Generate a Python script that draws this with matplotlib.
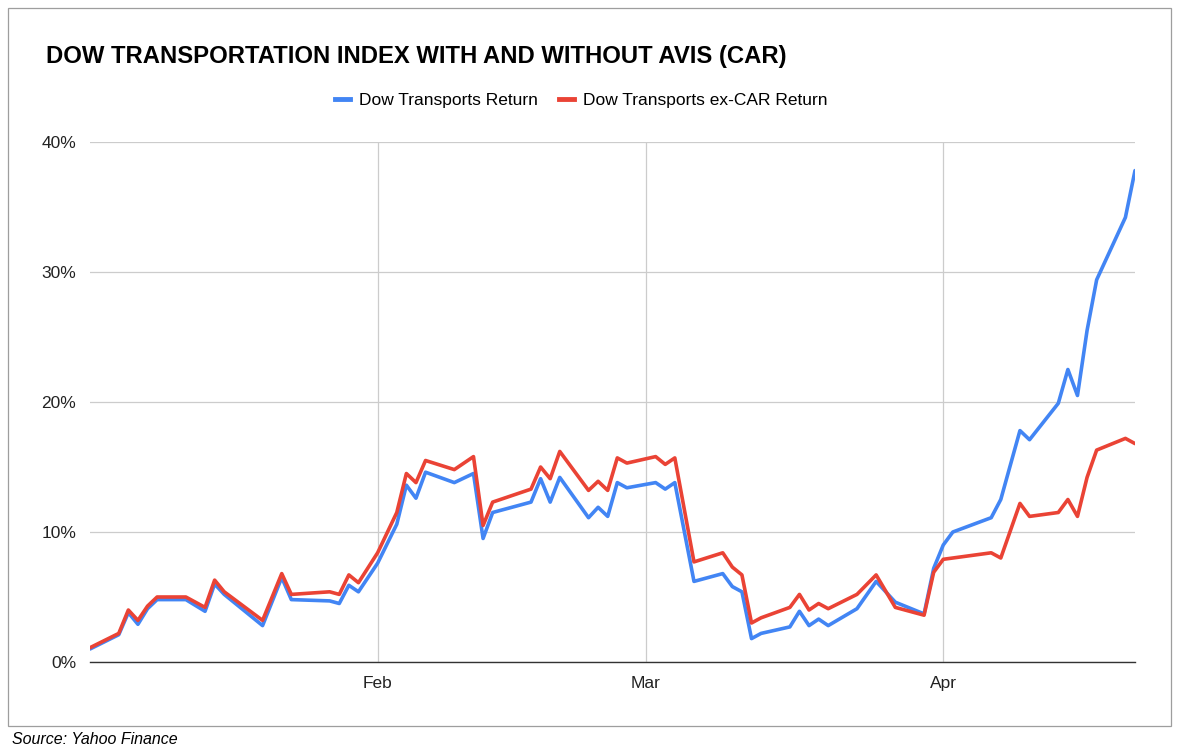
import matplotlib
matplotlib.use('Agg')
import matplotlib.pyplot as plt
import matplotlib.dates as mdates
from matplotlib.patches import Rectangle
from matplotlib.lines import Line2D
import pandas as pd

plt.rcParams['font.family'] = ['Liberation Sans', 'DejaVu Sans']

# 数据（从图上读出的近似值，%）
dates = [
    '2021-01-02', '2021-01-05', '2021-01-06', '2021-01-07', '2021-01-08', '2021-01-09',
    '2021-01-12', '2021-01-14', '2021-01-15', '2021-01-16', '2021-01-20', '2021-01-22',
    '2021-01-23', '2021-01-27', '2021-01-28', '2021-01-29', '2021-01-30', '2021-02-01',
    '2021-02-03', '2021-02-04', '2021-02-05', '2021-02-06', '2021-02-09', '2021-02-11',
    '2021-02-12', '2021-02-13', '2021-02-17', '2021-02-18', '2021-02-19', '2021-02-20',
    '2021-02-23', '2021-02-24', '2021-02-25', '2021-02-26', '2021-02-27', '2021-03-02',
    '2021-03-03', '2021-03-04', '2021-03-06', '2021-03-09', '2021-03-10', '2021-03-11',
    '2021-03-12', '2021-03-13', '2021-03-16', '2021-03-17', '2021-03-18', '2021-03-19',
    '2021-03-20', '2021-03-23', '2021-03-25', '2021-03-27', '2021-03-30', '2021-03-31',
    '2021-04-01', '2021-04-02', '2021-04-06', '2021-04-07', '2021-04-09', '2021-04-10',
    '2021-04-13', '2021-04-14', '2021-04-15', '2021-04-16', '2021-04-17', '2021-04-20',
    '2021-04-21',
]
dow_transports = [
    1.0, 2.1, 3.8, 2.9, 4.1, 4.8,
    4.8, 3.9, 6.0, 5.2, 2.8, 6.5,
    4.8, 4.7, 4.5, 5.9, 5.4, 7.6,
    10.6, 13.6, 12.6, 14.6, 13.8, 14.5,
    9.5, 11.5, 12.3, 14.1, 12.3, 14.2,
    11.1, 11.9, 11.2, 13.8, 13.4, 13.8,
    13.3, 13.8, 6.2, 6.8, 5.8, 5.4,
    1.8, 2.2, 2.7, 3.9, 2.8, 3.3,
    2.8, 4.1, 6.2, 4.6, 3.7, 7.2,
    9.0, 10.0, 11.1, 12.5, 17.8, 17.1,
    19.9, 22.5, 20.5, 25.5, 29.4, 34.2,
    37.8,
]
dow_ex_car = [
    1.1, 2.2, 4.0, 3.2, 4.3, 5.0,
    5.0, 4.2, 6.3, 5.4, 3.2, 6.8,
    5.2, 5.4, 5.2, 6.7, 6.1, 8.4,
    11.5, 14.5, 13.8, 15.5, 14.8, 15.8,
    10.5, 12.3, 13.3, 15.0, 14.1, 16.2,
    13.2, 13.9, 13.2, 15.7, 15.3, 15.8,
    15.2, 15.7, 7.7, 8.4, 7.3, 6.7,
    3.0, 3.4, 4.2, 5.2, 4.0, 4.5,
    4.1, 5.2, 6.7, 4.2, 3.6, 6.9,
    7.9, 8.0, 8.4, 8.0, 12.2, 11.2,
    11.5, 12.5, 11.2, 14.2, 16.3, 17.2,
    16.8,
]
x = pd.to_datetime(dates)

BLUE = '#4285F4'
RED = '#EA4335'

fig = plt.figure(figsize=(11.8, 7.53), dpi=100)
fig.patch.set_facecolor('white')

# 外框
fig.patches.append(Rectangle((8 / 1180, 1 - 726 / 753), 1163 / 1180, 718 / 753,
                             transform=fig.transFigure, fill=False,
                             edgecolor='#9e9e9e', lw=0.9))

ax = fig.add_axes([90 / 1180, 1 - 662 / 753, 1045 / 1180, 520 / 753])
ax.plot(x, dow_transports, color=BLUE, lw=2.6, solid_joinstyle='round',
        solid_capstyle='round', zorder=3)
ax.plot(x, dow_ex_car, color=RED, lw=2.6, solid_joinstyle='round',
        solid_capstyle='round', zorder=4)

ax.set_xlim(x[0], x[-1])
ax.set_ylim(0, 40)
ax.set_yticks([0, 10, 20, 30, 40])
ax.set_yticklabels(['0%', '10%', '20%', '30%', '40%'])
ax.xaxis.set_major_locator(mdates.MonthLocator(bymonth=[2, 3, 4]))
ax.xaxis.set_major_formatter(mdates.DateFormatter('%b'))
ax.tick_params(axis='both', length=0, labelsize=12.5, colors='#222222')
ax.tick_params(axis='x', pad=10)
ax.tick_params(axis='y', pad=10)
ax.grid(True, color='#cccccc', lw=0.9)
ax.set_axisbelow(True)
for s in ('top', 'right', 'left'):
    ax.spines[s].set_visible(False)
ax.spines['bottom'].set_color('#333333')
ax.spines['bottom'].set_linewidth(1.0)
ax.spines['bottom'].set_zorder(5)

fig.text(46 / 1180, 1 - 57 / 753, 'DOW TRANSPORTATION INDEX WITH AND WITHOUT AVIS (CAR)',
         fontsize=17.2, fontweight='bold', color='black', va='center', ha='left')

handles = [Line2D([], [], color=BLUE, lw=3.5), Line2D([], [], color=RED, lw=3.5)]
fig.legend(handles, ['Dow Transports Return', 'Dow Transports ex-CAR Return'],
           loc='center', bbox_to_anchor=(0.4925, 1 - 100 / 753), ncol=2, frameon=False,
           fontsize=12.5, handlelength=0.9, handletextpad=0.5, columnspacing=1.2)

fig.text(12 / 1180, 1 - 739 / 753, 'Source: Yahoo Finance', fontsize=11.5,
         fontstyle='italic', va='center', ha='left')

fig.savefig('out.png', dpi=100, facecolor=fig.get_facecolor())
